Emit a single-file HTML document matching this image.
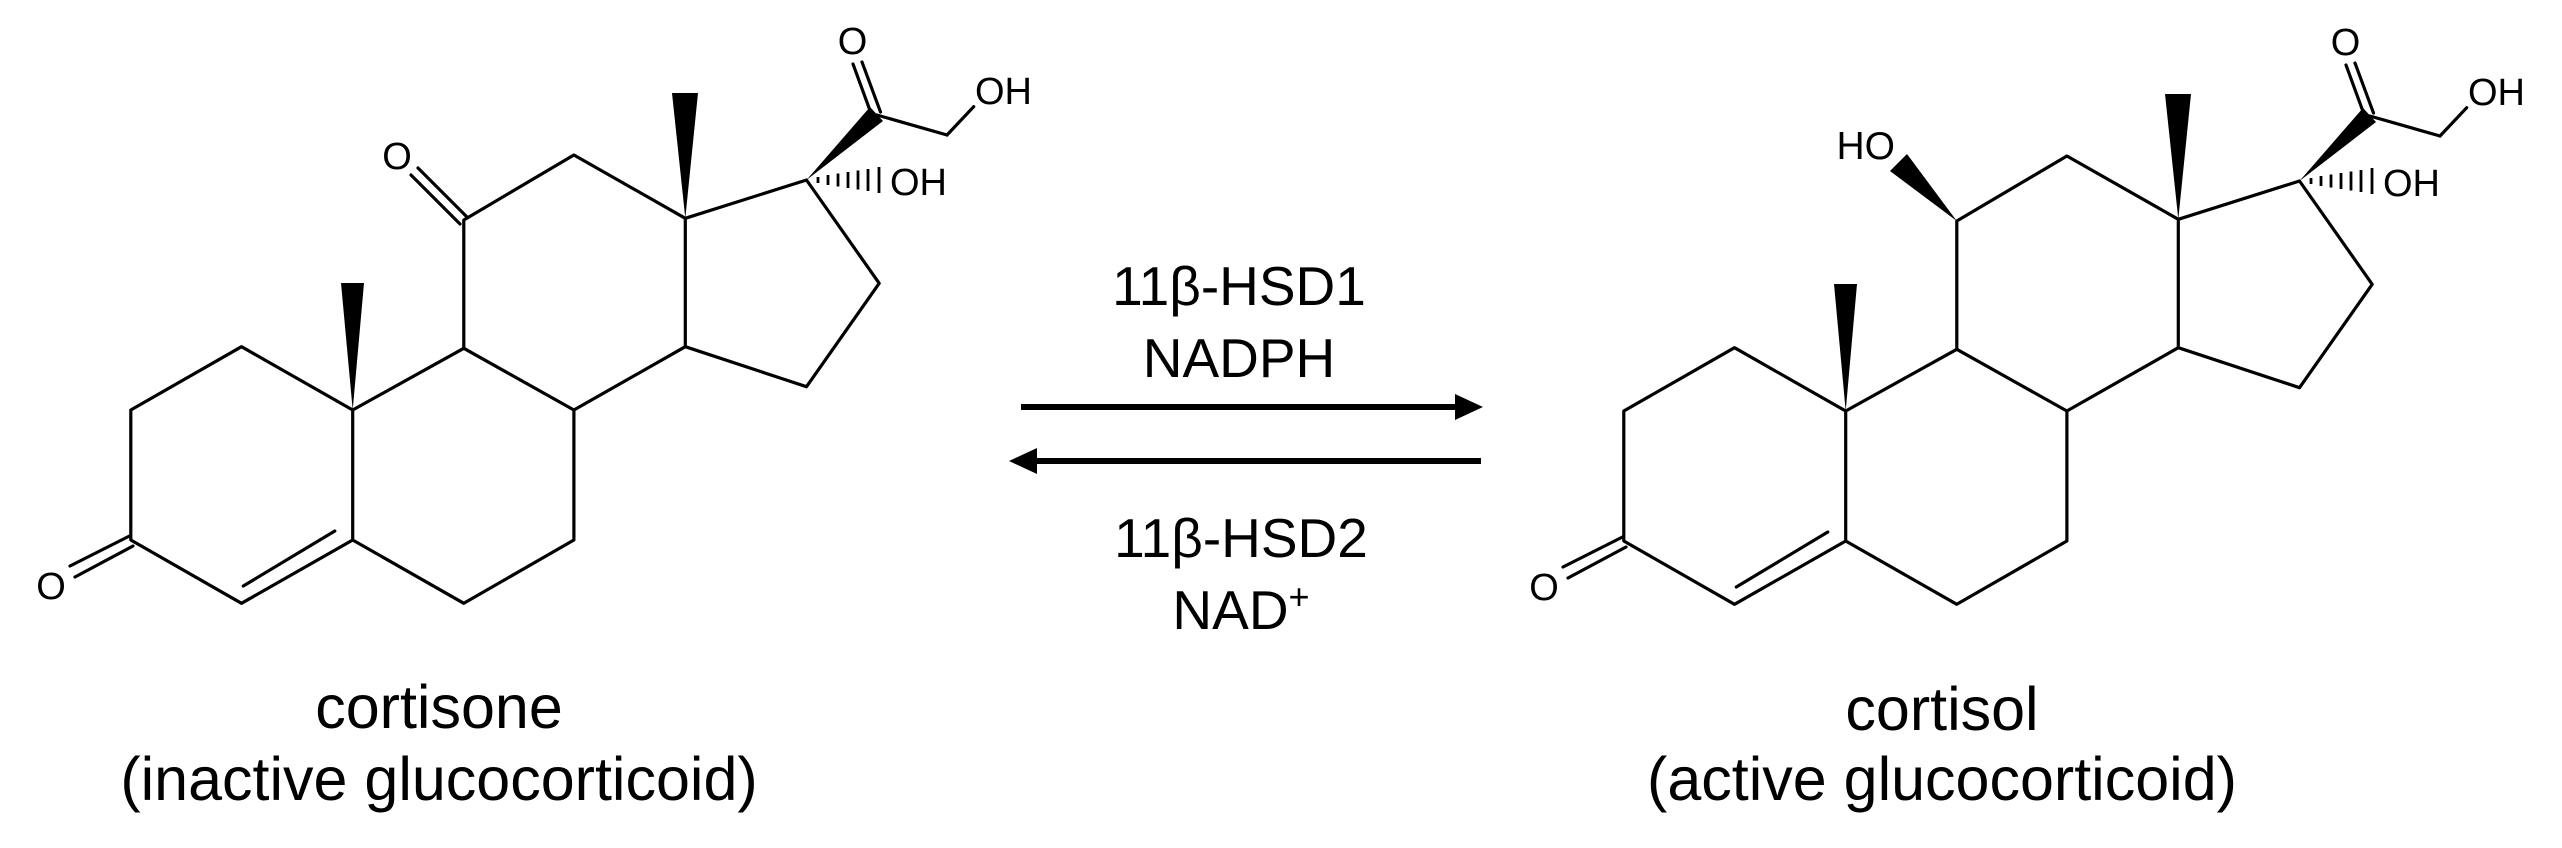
<!DOCTYPE html>
<html><head><meta charset="utf-8"><style>
html,body{margin:0;padding:0;background:#fff;}
svg{display:block;}
text{font-family:"Liberation Sans",sans-serif;fill:#000;}
</style></head><body>
<svg width="2562" height="848" viewBox="0 0 2562 848" xmlns="http://www.w3.org/2000/svg">
<defs>
<g id="core">
  <g stroke="#000" stroke-width="3.2" fill="none" stroke-linecap="round" stroke-linejoin="round">
    <polyline points="352.7,410 241.5,346.7 130.8,410 130.8,540 241.5,603.3 352.7,540 352.7,410 463.8,348.3 573.9,410 573.9,540 463.8,603.3 352.7,540"/>
    <line x1="243.3" y1="586" x2="334.8" y2="531"/>
    <polyline points="463.8,348.3 463.8,220 573.9,155 685.3,218.3 685.3,346.7 573.9,410"/>
    <polyline points="685.3,346.7 806.5,386.7 879.2,283.3 806.5,180 685.3,218.3"/>
    <line x1="129.5" y1="536" x2="70" y2="566"/>
    <line x1="133" y1="546" x2="75" y2="577"/>
    <line x1="876.8" y1="115" x2="947" y2="135"/>
    <line x1="947" y1="135" x2="973.7" y2="106.7"/>
    <line x1="880.5" y1="112" x2="862" y2="62"/>
    <line x1="872" y1="116" x2="853" y2="64"/>
  </g>
  <polygon points="352.7,410 341,283 364,283" fill="#000"/>
  <polygon points="685.3,218.3 672,93 698,93" fill="#000"/>
  <polygon points="806.5,180 870,107 883,121" fill="#000"/>
  <g stroke="#000" stroke-width="2.8">
    <line x1="818" y1="177" x2="818" y2="183"/>
    <line x1="828" y1="175" x2="828" y2="185"/>
    <line x1="838" y1="173.5" x2="838" y2="186.5"/>
    <line x1="848" y1="172" x2="848" y2="188"/>
    <line x1="858" y1="170.5" x2="858" y2="189.5"/>
    <line x1="868" y1="169" x2="868" y2="191"/>
    <line x1="879" y1="167" x2="879" y2="193"/>
  </g>
  <text x="51" y="599" font-size="38" text-anchor="middle">O</text>
  <text x="852.5" y="54" font-size="38" text-anchor="middle">O</text>
  <text x="975" y="104" font-size="38">OH</text>
  <text x="890" y="195" font-size="38">OH</text>
</g>
</defs>

<!-- cortisone -->
<use href="#core" x="0" y="0"/>
<g stroke="#000" stroke-width="3.2" stroke-linecap="round">
  <line x1="467" y1="217" x2="418" y2="168"/>
  <line x1="460" y1="224" x2="411" y2="175"/>
</g>
<text x="397" y="169" font-size="38" text-anchor="middle">O</text>

<!-- cortisol -->
<use href="#core" x="1493" y="1"/>
<polygon points="1956.8,221 1890,171 1907,154" fill="#000"/>
<text x="1895" y="159" font-size="39" text-anchor="end">HO</text>

<!-- arrows -->
<line x1="1021" y1="407" x2="1458" y2="407" stroke="#000" stroke-width="6"/>
<polygon points="1483,407 1455,394 1455,420" fill="#000"/>
<line x1="1034" y1="461" x2="1481" y2="461" stroke="#000" stroke-width="6"/>
<polygon points="1009,461 1037,448 1037,474" fill="#000"/>

<text x="1239" y="305" font-size="55" text-anchor="middle">11β-HSD1</text>
<text x="1239" y="377" font-size="55" text-anchor="middle">NADPH</text>
<text x="1241" y="557" font-size="55" text-anchor="middle">11β-HSD2</text>
<text x="1241" y="629" font-size="55" text-anchor="middle">NAD<tspan font-size="36" dy="-20">+</tspan></text>

<text x="439" y="728" font-size="61" text-anchor="middle">cortisone</text>
<text x="439" y="800" font-size="61" text-anchor="middle">(inactive glucocorticoid)</text>
<text x="1942" y="730" font-size="61" text-anchor="middle">cortisol</text>
<text x="1942" y="800" font-size="61" text-anchor="middle">(active glucocorticoid)</text>
</svg>
</body></html>
